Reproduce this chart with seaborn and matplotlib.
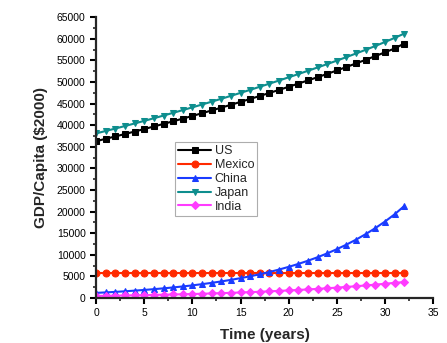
import numpy as np
import pandas as pd
import seaborn as sns
import matplotlib.pyplot as plt
from matplotlib.ticker import MultipleLocator

years = list(range(33))

us = [36300, 36850, 37400, 37960, 38530, 39110, 39700, 40300, 40900, 41520,
      42140, 42770, 43410, 44060, 44720, 45390, 46070, 46760, 47460, 48170,
      48890, 49620, 50360, 51110, 51870, 52660, 53470, 54300, 55140, 55990,
      56860, 57750, 58900]
mexico = [5900] * 33
china = [1200, 1310, 1430, 1570, 1720, 1880, 2060, 2250, 2460, 2690,
         2940, 3220, 3520, 3850, 4210, 4610, 5040, 5510, 6030, 6600,
         7220, 7900, 8640, 9450, 10340, 11310, 12370, 13530, 14800, 16190,
         17710, 19380, 21300]
japan = [38100, 38660, 39230, 39810, 40400, 41000, 41610, 42230, 42860, 43490,
         44130, 44780, 45440, 46110, 46790, 47480, 48180, 48890, 49610, 50340,
         51080, 51830, 52590, 53360, 54140, 54940, 55760, 56600, 57450, 58330,
         59250, 60200, 61200]
india = [500, 530, 570, 600, 640, 680, 730, 780, 830, 880,
         940, 1000, 1070, 1140, 1210, 1290, 1370, 1460, 1560, 1660,
         1770, 1880, 2000, 2130, 2270, 2420, 2580, 2740, 2920, 3110,
         3310, 3520, 3700]

series = [("US", us, "black", "s"),
          ("Mexico", mexico, "#ff2a00", "o"),
          ("China", china, "#1a3cff", "^"),
          ("Japan", japan, "#0e8e8e", "v"),
          ("India", india, "#ff3cff", "D")]

sns.set_style("ticks")
plt.rcParams['font.family'] = ['Liberation Sans', 'DejaVu Sans']

fig = plt.figure(figsize=(4.47, 3.43), dpi=100)
ax = fig.add_axes([0.215, 0.131, 0.754, 0.819])

for name, vals, col, mk in series:
    df = pd.DataFrame({"t": years, "v": vals})
    sns.lineplot(data=df, x="t", y="v", ax=ax, color=col, marker=mk,
                 markersize=5 if mk != "D" else 4, markeredgecolor=col,
                 linewidth=1.5, label=name)

ax.set_xlim(0, 35)
ax.set_ylim(0, 65000)
ax.xaxis.set_major_locator(MultipleLocator(5))
ax.xaxis.set_minor_locator(MultipleLocator(2.5))
ax.yaxis.set_major_locator(MultipleLocator(5000))
ax.yaxis.set_minor_locator(MultipleLocator(2500))
ax.tick_params(axis="both", which="major", direction="out", length=4, width=1.5,
               labelsize=7.5, colors="black")
ax.tick_params(axis="both", which="minor", direction="out", length=2.5, width=1.2)
for s in ["left", "bottom"]:
    ax.spines[s].set_linewidth(1.6)
ax.spines["right"].set_visible(False)
ax.spines["top"].set_visible(False)

ax.set_xlabel("Time (years)", fontsize=11, fontweight="bold", labelpad=7)
ax.set_ylabel("GDP/Capita (\\$2000)", fontsize=11, fontweight="bold", labelpad=6)

leg = ax.legend(loc="upper left", bbox_to_anchor=(0.235, 0.555), fontsize=9,
                frameon=True, fancybox=False, edgecolor="#999999",
                handlelength=2.6, handletextpad=0.3, borderpad=0.25,
                labelspacing=0.15, borderaxespad=0)
leg.get_frame().set_linewidth(0.8)

fig.savefig("out.png", dpi=100)
